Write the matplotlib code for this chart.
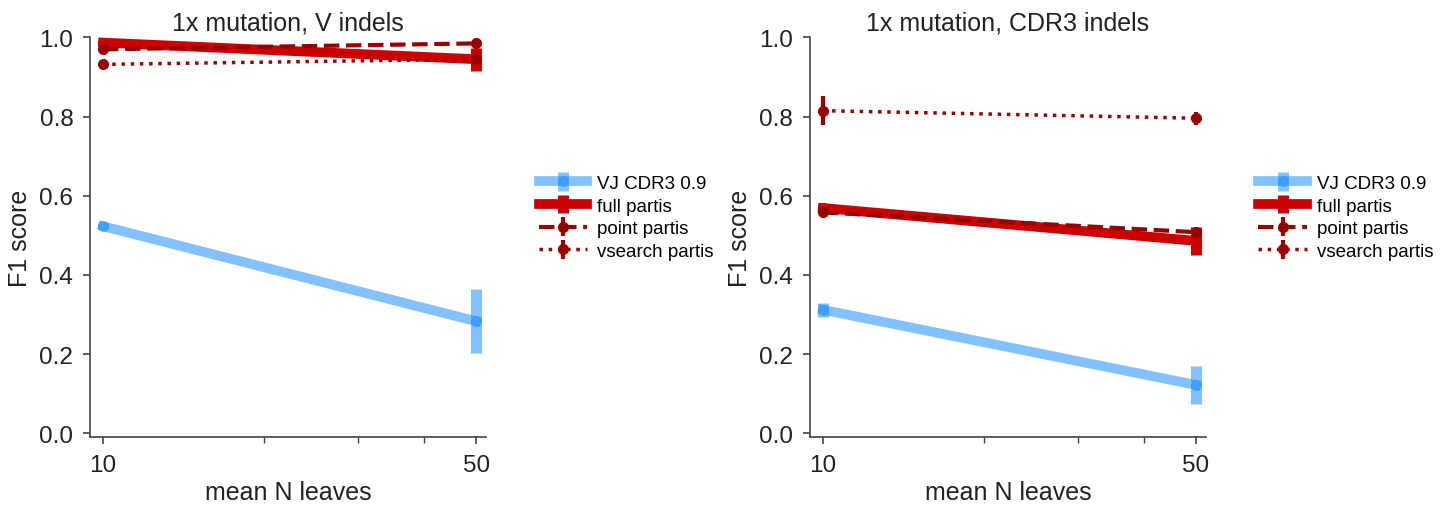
import numpy as np
import matplotlib
matplotlib.use("Agg")
import matplotlib.pyplot as plt
from matplotlib.ticker import FixedLocator, NullFormatter

plt.rcParams["font.family"] = ["Liberation Sans", "DejaVu Sans"]

n_leaves = [10, 50]
titles = ["1x mutation, V indels", "1x mutation, CDR3 indels"]
methods = ["VJ CDR3 0.9", "full partis", "point partis", "vsearch partis"]

# panel 1: V indels
vind_vj = [0.523, 0.283]
vind_vj_err = [0.008, 0.081]
vind_full = [0.987, 0.945]
vind_full_err = [0.005, 0.029]
vind_point = [0.970, 0.985]
vind_point_err = [0.004, 0.004]
vind_vsearch = [0.932, 0.945]
vind_vsearch_err = [0.012, 0.006]

# panel 2: CDR3 indels
cdr3_vj = [0.312, 0.122]
cdr3_vj_err = [0.018, 0.047]
cdr3_full = [0.569, 0.486]
cdr3_full_err = [0.006, 0.035]
cdr3_point = [0.558, 0.508]
cdr3_point_err = [0.005, 0.012]
cdr3_vsearch = [0.815, 0.796]
cdr3_vsearch_err = [0.037, 0.016]

panels = [
    [(vind_vj, vind_vj_err), (vind_full, vind_full_err),
     (vind_point, vind_point_err), (vind_vsearch, vind_vsearch_err)],
    [(cdr3_vj, cdr3_vj_err), (cdr3_full, cdr3_full_err),
     (cdr3_point, cdr3_point_err), (cdr3_vsearch, cdr3_vsearch_err)],
]

styles = [
    dict(color="#3399ff", alpha=0.6, linestyle="-", linewidth=7, elinewidth=8, markersize=7),
    dict(color="#cc0000", alpha=1.0, linestyle="-", linewidth=7, elinewidth=8, markersize=7),
    dict(color="#990000", alpha=1.0, linestyle="--", linewidth=3, elinewidth=3, markersize=7),
    dict(color="#990000", alpha=1.0, linestyle=":", linewidth=2.5, elinewidth=3, markersize=7),
]

fig = plt.figure(figsize=(14.46, 5.06), dpi=100)
axes_rects = [[0.0622, 0.134, 0.274, 0.790], [0.560, 0.134, 0.274, 0.790]]

for rect, title, series in zip(axes_rects, titles, panels):
    ax = fig.add_axes(rect)
    for (vals, errs), name, st in zip(series, methods, styles):
        ax.errorbar(n_leaves, vals, yerr=errs, label=name, color=st["color"],
                    alpha=st["alpha"], linestyle=st["linestyle"], linewidth=st["linewidth"],
                    elinewidth=st["elinewidth"], marker="o", markersize=st["markersize"],
                    capsize=0)
    ax.set_xscale("log")
    ax.set_xlim(9.45, 52.2)
    ax.set_ylim(-0.01, 1.0)
    ax.xaxis.set_major_locator(FixedLocator(n_leaves))
    ax.set_xticklabels([str(v) for v in n_leaves])
    ax.xaxis.set_minor_locator(FixedLocator([20, 30, 40]))
    ax.xaxis.set_minor_formatter(NullFormatter())
    ax.set_yticks([0.0, 0.2, 0.4, 0.6, 0.8, 1.0])
    ax.set_yticklabels(["0.0", "0.2", "0.4", "0.6", "0.8", "1.0"])
    for side in ["top", "right"]:
        ax.spines[side].set_visible(False)
    for side in ["left", "bottom"]:
        ax.spines[side].set_color("#444444")
        ax.spines[side].set_linewidth(1.2)
    ax.tick_params(axis="both", which="major", labelsize=17.5, colors="#444444",
                   labelcolor="#222222", length=5, width=1.2, pad=7)
    ax.tick_params(axis="x", which="minor", length=4, width=1, colors="#444444")
    ax.set_title(title, fontsize=18, color="#222222", pad=6)
    ax.set_xlabel("mean N leaves", fontsize=18, color="#222222", labelpad=3)
    ax.set_ylabel("F1 score", fontsize=18, color="#222222", labelpad=5)
    ax.legend(loc="center left", bbox_to_anchor=(1.09, 0.55), frameon=False,
              fontsize=13.5, handlelength=2.6, labelspacing=0.3, handletextpad=0.5)

fig.savefig("out.png", dpi=100)
